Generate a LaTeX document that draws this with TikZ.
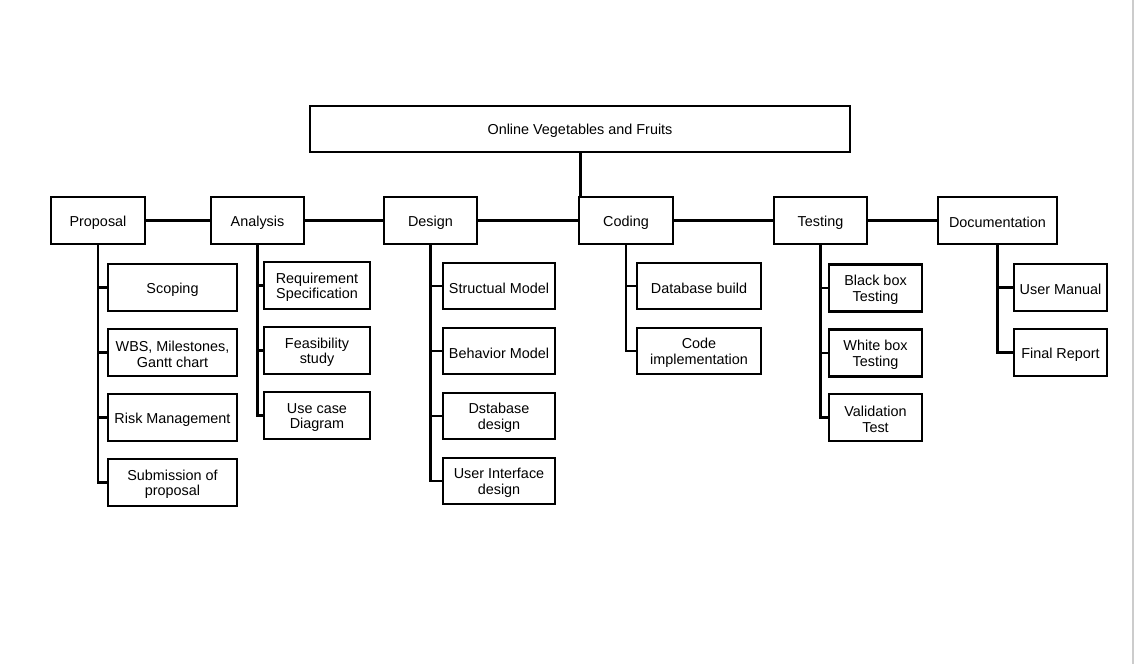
\documentclass[tikz,border=0pt]{standalone}
\usepackage{fontspec}
\setmainfont{Liberation Sans}
\newcommand\upstrut{\rule{0pt}{14.2pt}}
\begin{document}
\begin{tikzpicture}[x=1pt,y=-1pt,
  box/.style={draw=black,line width=2.2pt,rectangle,inner sep=0pt,align=center,
    font=\fontsize{14.4}{15.5}\selectfont,text=black},
  lnk/.style={line width=2.2pt,draw=black},
  thk/.style={line width=3pt,draw=black}]
\useasboundingbox (0,0) rectangle (1134,664);
\fill[white] (0,0) rectangle (1134,664);
\fill[black!20] (1132,0) rectangle (1134,664);
% root
\node[box,minimum width=540,minimum height=46] (root) at (580,129) {\upstrut Online Vegetables and Fruits};
% level 1
\node[box,minimum width=94,minimum height=47] (prop) at (98,220.5) {\upstrut Proposal};
\node[box,minimum width=93,minimum height=47] (anal) at (257.5,220.5) {\upstrut Analysis};
\node[box,minimum width=93,minimum height=47] (des) at (430.5,220.5) {\upstrut Design};
\node[box,minimum width=94,minimum height=47] (cod) at (626,220.5) {\upstrut Coding};
\node[box,minimum width=93,minimum height=47] (tes) at (820.5,220.5) {\upstrut Testing};
\node[box,minimum width=119,minimum height=47] (doc) at (997.5,220.5) {\upstrut Documentation};
% proposal children
\node[box,minimum width=129,minimum height=47] (p1) at (172.5,287.5) {\upstrut Scoping};
\node[box,minimum width=129,minimum height=47] (p2) at (172.5,352.5) {\upstrut WBS, Milestones,\\Gantt chart};
\node[box,minimum width=129,minimum height=47] (p3) at (172.5,417.5) {\upstrut Risk Management};
\node[box,minimum width=129,minimum height=47] (p4) at (172.5,482.5) {\upstrut Submission of\\proposal};
% analysis children
\node[box,minimum width=106,minimum height=47] (a1) at (317,285.5) {\upstrut Requirement\\Specification};
\node[box,minimum width=106,minimum height=47] (a2) at (317,350.5) {\upstrut Feasibility\\study};
\node[box,minimum width=106,minimum height=47] (a3) at (317,415.5) {\upstrut Use case\\Diagram};
% design children
\node[box,minimum width=112,minimum height=46] (d1) at (499,286) {\upstrut Structual Model};
\node[box,minimum width=112,minimum height=46] (d2) at (499,351) {\upstrut Behavior Model};
\node[box,minimum width=112,minimum height=46] (d3) at (499,416) {\upstrut Dstabase\\design};
\node[box,minimum width=112,minimum height=46] (d4) at (499,481) {\upstrut User Interface\\design};
% coding children
\node[box,minimum width=124,minimum height=46] (c1) at (699,286) {\upstrut Database build};
\node[box,minimum width=124,minimum height=46] (c2) at (699,351) {\upstrut Code\\implementation};
% testing children
\node[box,minimum width=93,minimum height=47] (t1) at (875.5,288) {\upstrut Black box\\Testing};
\node[box,minimum width=93,minimum height=47] (t2) at (875.5,353) {\upstrut White box\\Testing};
\node[box,minimum width=93,minimum height=47] (t3) at (875.5,417.5) {\upstrut Validation\\Test};
% documentation children
\node[box,minimum width=93,minimum height=47] (o1) at (1060.5,287.5) {\upstrut User Manual};
\node[box,minimum width=93,minimum height=47] (o2) at (1060.5,352.5) {\upstrut Final Report};
% connectors
\coordinate (rootfoot) at (root.south);
\draw[thk] (root.south) -- (rootfoot |- cod.north);
\draw[lnk] (prop.east) -- (anal.west);
\draw[thk] (anal.east) -- (des.west);
\draw[thk] (des.east) -- (cod.west);
\draw[lnk] (cod.east) -- (tes.west);
\draw[lnk] (tes.east) -- (doc.west);
\foreach \c in {p1,p2,p3,p4} \draw[lnk] (prop.south) |- (\c.west);
\foreach \c in {a1,a2,a3} \draw[lnk] (anal.south) |- (\c.west);
\foreach \c in {d1,d2,d3,d4} \draw[lnk] (des.south) |- (\c.west);
\foreach \c in {c1,c2} \draw[lnk] (cod.south) |- (\c.west);
\foreach \c in {t1,t2,t3} \draw[lnk] (tes.south) |- (\c.west);
\foreach \c in {o1,o2} \draw[lnk] (doc.south) |- (\c.west);
\end{tikzpicture}
\end{document}
